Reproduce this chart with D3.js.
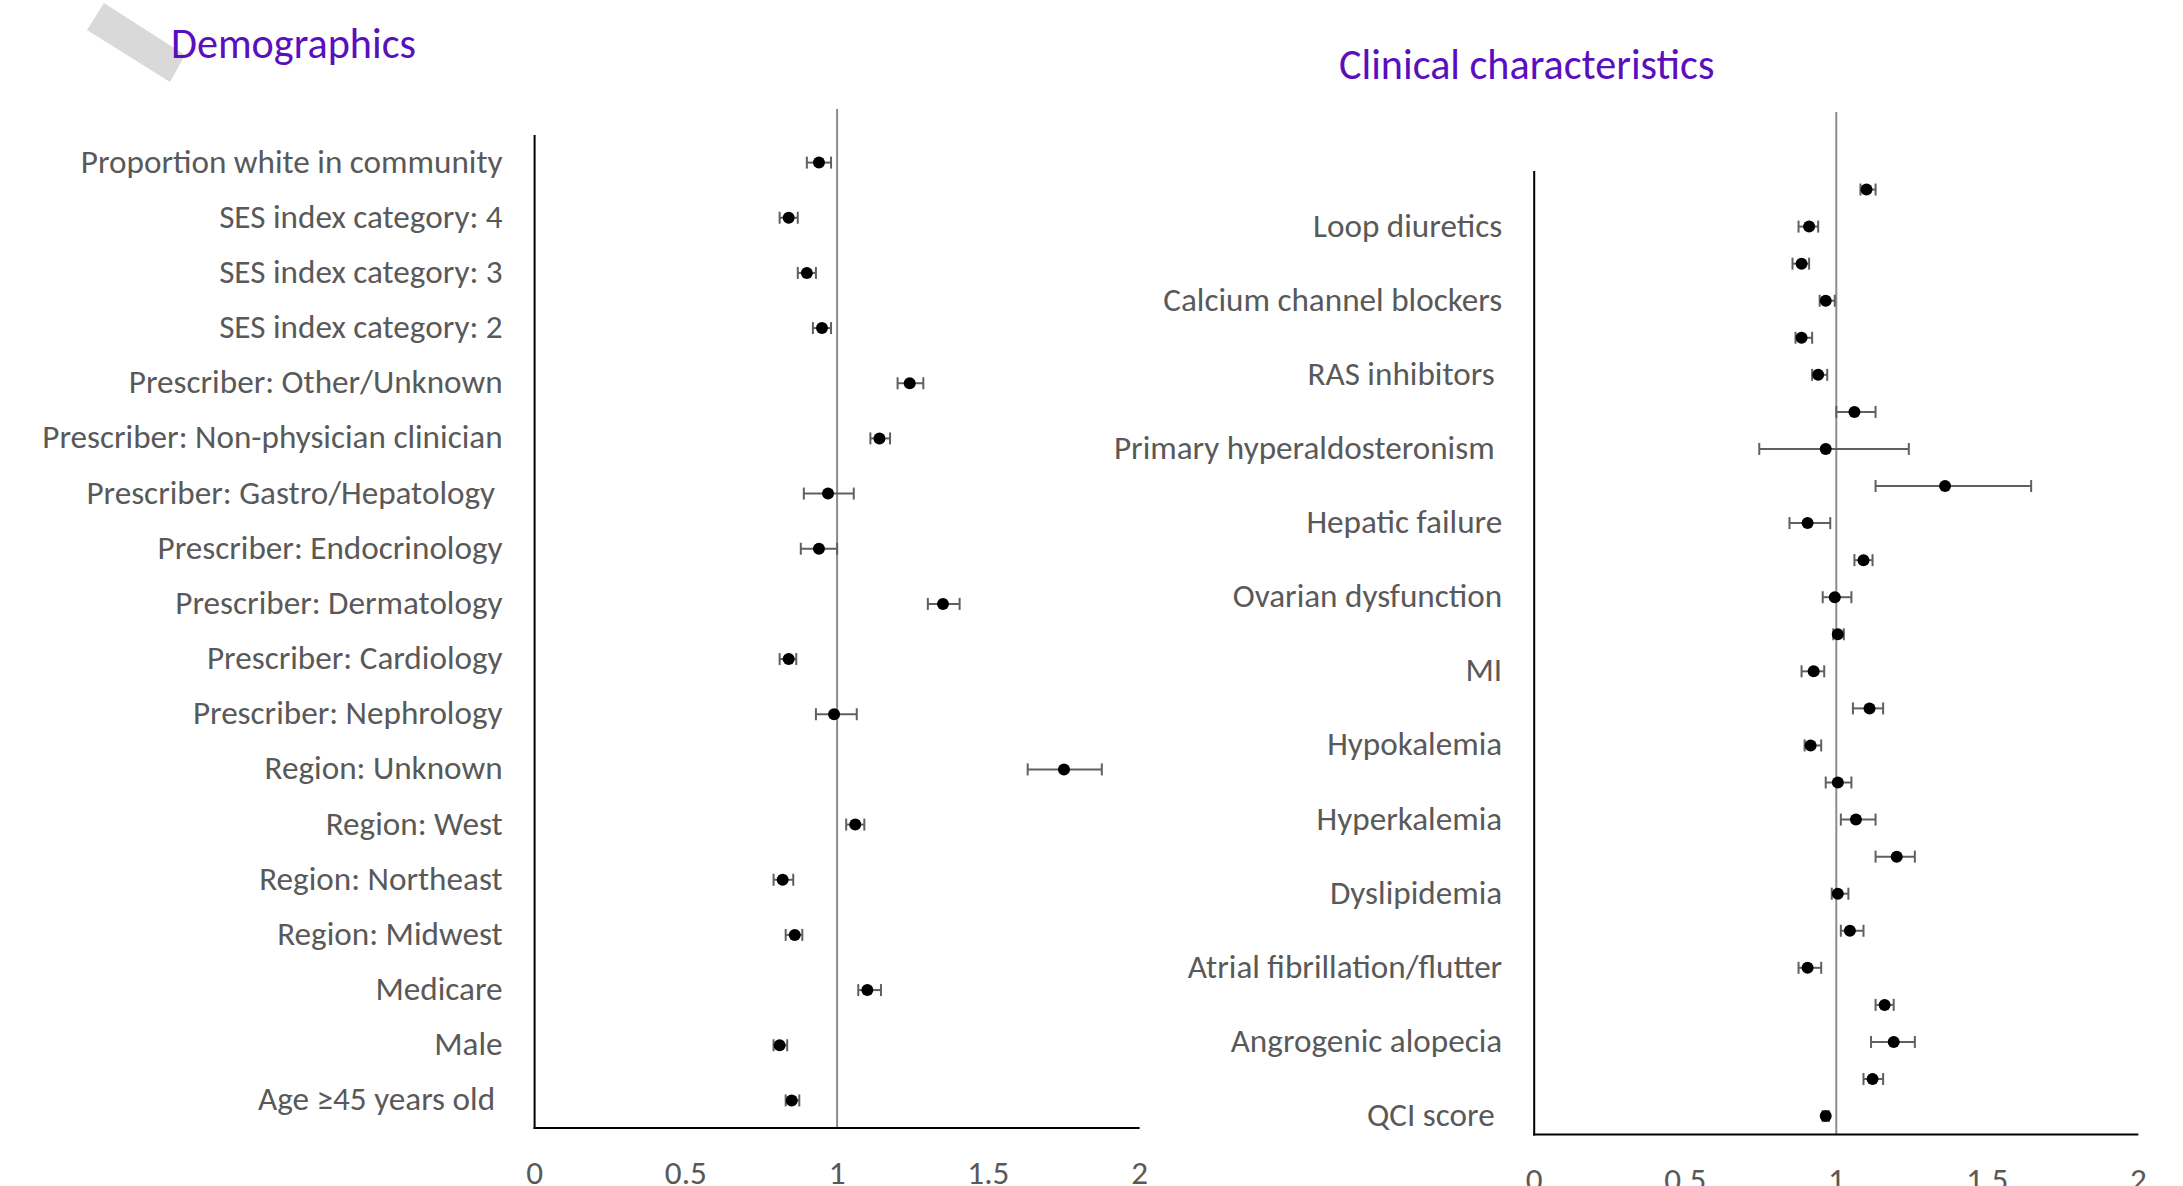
<!DOCTYPE html>
<html>
<head>
<meta charset="utf-8">
<script src="https://cdn.jsdelivr.net/npm/d3@7"></script>
<style>
  body { margin: 0; background: #fff; }
  text { white-space: pre; }
</style>
</head>
<body>
<div id="result"></div>
<script>
// ---- data ----
const demoLabels = [
    "Proportion white in community", "SES index category: 4", "SES index category: 3",
    "SES index category: 2", "Prescriber: Other/Unknown", "Prescriber: Non-physician clinician",
    "Prescriber: Gastro/Hepatology ", "Prescriber: Endocrinology", "Prescriber: Dermatology",
    "Prescriber: Cardiology", "Prescriber: Nephrology", "Region: Unknown", "Region: West",
    "Region: Northeast", "Region: Midwest", "Medicare", "Male", "Age \u226545 years old "
];
const demoOR = [0.94, 0.84, 0.90, 0.95, 1.24, 1.14, 0.97, 0.94, 1.35, 0.84, 0.99, 1.75, 1.06, 0.82, 0.86, 1.10, 0.81, 0.85];
const demoLo = [0.90, 0.81, 0.87, 0.92, 1.20, 1.11, 0.89, 0.88, 1.30, 0.81, 0.93, 1.63, 1.03, 0.79, 0.83, 1.07, 0.79, 0.83];
const demoHi = [0.98, 0.87, 0.93, 0.98, 1.285, 1.175, 1.055, 1.00, 1.405, 0.865, 1.065, 1.875, 1.09, 0.855, 0.885, 1.145, 0.835, 0.875];

// every other category label is hidden in the original (label interval 2)
const clinLabels = [
    null, "Loop diuretics", null, "Calcium channel blockers", null, "RAS inhibitors ",
    null, "Primary hyperaldosteronism ", null, "Hepatic failure", null, "Ovarian dysfunction",
    null, "MI", null, "Hypokalemia", null, "Hyperkalemia", null, "Dyslipidemia",
    null, "Atrial fibrillation/flutter", null, "Angrogenic alopecia", null, "QCI score "
];
const clinOR = [1.10, 0.91, 0.885, 0.965, 0.885, 0.94, 1.06, 0.965, 1.36, 0.905, 1.09, 0.995, 1.005,
    0.925, 1.11, 0.915, 1.005, 1.065, 1.20, 1.005, 1.045, 0.905, 1.16, 1.19, 1.12, 0.965];
const clinLo = [1.08, 0.875, 0.855, 0.945, 0.865, 0.92, 1.00, 0.745, 1.13, 0.845, 1.06, 0.955, 0.99,
    0.885, 1.055, 0.895, 0.965, 1.015, 1.13, 0.985, 1.015, 0.875, 1.13, 1.115, 1.09, 0.955];
const clinHi = [1.13, 0.94, 0.91, 0.995, 0.92, 0.97, 1.13, 1.24, 1.645, 0.98, 1.12, 1.05, 1.025,
    0.96, 1.155, 0.95, 1.05, 1.13, 1.26, 1.04, 1.09, 0.95, 1.19, 1.26, 1.155, 0.975];

const xTicks = [0, 0.5, 1, 1.5, 2];

const W = 2183, H = 1186;
const FONT = "Calibri, Carlito, Lato, 'Open Sans', sans-serif";
const TEXT_GREY = "#595959";
const TITLE_COLOR = "#5a0fbe";

const svg = d3.select("#result")
    .append("svg")
    .attr("width", W)
    .attr("height", H)
    .style("font-family", FONT);

// pick a font size that gives a string a wanted width
function fitSize(str, width) {
    const t = svg.append("text").style("font-size", "100px").text(str);
    const w = t.node().getComputedTextLength();
    t.remove();
    return 100 * width / w;
}
const labelSize = fitSize("Proportion white in community", 422);
const titleSize = fitSize("Demographics", 245);

// grey band behind the first title
svg.append("polygon")
    .attr("points", "104,3 185,55 170,82 87,30")
    .attr("fill", "#d9d9d9");

svg.append("text")
    .attr("x", 171).attr("y", 58)
    .style("font-size", titleSize + "px")
    .attr("fill", TITLE_COLOR)
    .text("Demographics");

svg.append("text")
    .attr("x", 1339).attr("y", 79)
    .style("font-size", titleSize + "px")
    .attr("fill", TITLE_COLOR)
    .text("Clinical characteristics");

function forest(opts) {
    const x = d3.scaleLinear().domain([0, 2]).range([opts.x0, opts.x1]);
    const idx = d3.range(opts.or.length);
    const y = d3.scaleBand().domain(idx).range([opts.y0, opts.y1]);
    const cy = i => y(i) + y.bandwidth() / 2;

    const g = svg.append("g");

    // reference line at 1
    g.append("line")
        .attr("x1", x(1)).attr("x2", x(1))
        .attr("y1", opts.refTop).attr("y2", opts.y1)
        .attr("stroke", "#8c8c8c").attr("stroke-width", 2);

    // axes, drawn as plain lines (no tick marks in the original)
    g.append("line")
        .attr("x1", x(0)).attr("x2", x(0))
        .attr("y1", opts.y0).attr("y2", opts.y1 + 1)
        .attr("stroke", "#000").attr("stroke-width", 2);
    g.append("line")
        .attr("x1", x(0) - 1).attr("x2", x(2))
        .attr("y1", opts.y1).attr("y2", opts.y1)
        .attr("stroke", "#000").attr("stroke-width", 2);

    // tick labels (cut by the bottom edge, as in the original)
    g.selectAll(".tick")
        .data(xTicks)
        .enter().append("text")
        .attr("x", d => x(d))
        .attr("y", opts.y1 + 56)
        .attr("text-anchor", "middle")
        .style("font-size", labelSize + "px")
        .attr("fill", TEXT_GREY)
        .text(d => d);

    // category labels
    g.selectAll(".lab")
        .data(idx.filter(i => opts.labels[i]))
        .enter().append("text")
        .attr("x", x(0) - 32)
        .attr("y", i => cy(i) + labelSize * 0.3)
        .attr("text-anchor", "end")
        .style("font-size", labelSize + "px")
        .attr("fill", TEXT_GREY)
        .text(i => opts.labels[i]);

    // error bars
    const bars = g.selectAll(".bar").data(idx).enter().append("g")
        .attr("stroke", "#606060").attr("stroke-width", 2);
    bars.append("line")
        .attr("x1", i => x(opts.lo[i])).attr("x2", i => x(opts.hi[i]))
        .attr("y1", cy).attr("y2", cy);
    bars.append("line")
        .attr("x1", i => x(opts.lo[i])).attr("x2", i => x(opts.lo[i]))
        .attr("y1", i => cy(i) - 6).attr("y2", i => cy(i) + 6);
    bars.append("line")
        .attr("x1", i => x(opts.hi[i])).attr("x2", i => x(opts.hi[i]))
        .attr("y1", i => cy(i) - 6).attr("y2", i => cy(i) + 6);

    // point estimates
    g.selectAll(".dot").data(idx).enter().append("circle")
        .attr("cx", i => x(opts.or[i]))
        .attr("cy", cy)
        .attr("r", 6)
        .attr("fill", "#000");
}

forest({
    labels: demoLabels, or: demoOR, lo: demoLo, hi: demoHi,
    x0: 534.6, x1: 1139.6, y0: 135, y1: 1128, refTop: 109
});

forest({
    labels: clinLabels, or: clinOR, lo: clinLo, hi: clinHi,
    x0: 1534.2, x1: 2138.4, y0: 171, y1: 1134.6, refTop: 112
});
</script>
</body>
</html>
